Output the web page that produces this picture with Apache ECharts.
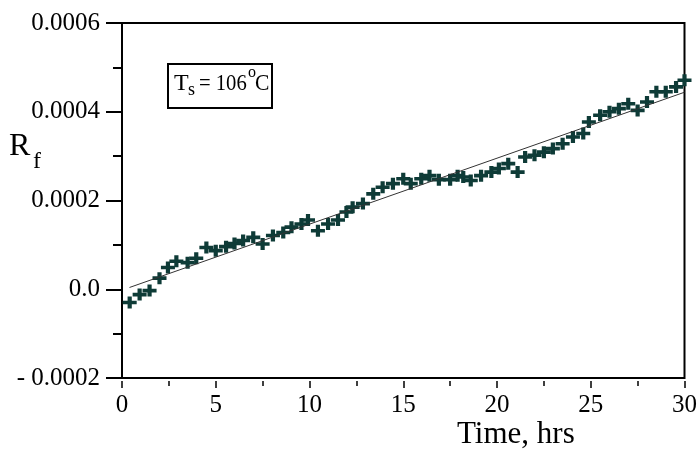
<!DOCTYPE html>
<html><head><meta charset="utf-8">
<script src="https://cdn.jsdelivr.net/npm/echarts@6/dist/echarts.min.js"></script>
<style>html,body{margin:0;padding:0;background:#fff}#c{width:700px;height:458px}</style>
</head><body><div id="c"></div>
<script>
const timeHrs = [0.41,0.94,1.47,2.0,2.45,2.9,3.5,3.96,4.5,5.0,5.55,6.0,6.46,7.0,7.5,8.05,8.6,9.04,9.57,9.92,10.45,10.99,11.52,11.97,12.3,12.85,13.4,13.9,14.45,15.0,15.4,15.96,16.4,16.9,17.5,17.9,18.2,18.6,19.15,19.7,20.1,20.6,21.1,21.5,22.0,22.5,22.98,23.5,24.05,24.6,24.9,25.5,26.0,26.5,27.0,27.5,28.0,28.5,29.0,29.55,30.0];
const rf = [-0.00003,-0.000012,-0.000003,0.000025,0.000049,0.000063,0.00006,0.00007,0.000094,0.000087,0.000096,0.000103,0.00011,0.000117,0.000102,0.000121,0.000128,0.00014,0.000147,0.000156,0.000132,0.000147,0.000156,0.000174,0.000185,0.000193,0.000215,0.00023,0.000238,0.000249,0.000238,0.000249,0.000256,0.000247,0.000247,0.000256,0.000253,0.000245,0.000256,0.000264,0.000272,0.000283,0.000264,0.000298,0.000302,0.000309,0.000317,0.000328,0.000343,0.000351,0.000377,0.000392,0.0004,0.000407,0.000418,0.000403,0.000422,0.000445,0.000445,0.000456,0.000471];
const fitX = [0.4, 30];
const fitY = [0.000004, 0.000444];
const yTickLabels = ['- 0.0002','0.0','0.0002','0.0004','0.0006'];
const xTickLabels = ['0','5','10','15','20','25','30'];

const FONT = 'Liberation Serif';
const chart = echarts.init(document.getElementById('c'));
const plus = 'path://M3.5,0H6.5V3.5H10V6.5H6.5V10H3.5V6.5H0V3.5H3.5Z';
chart.setOption({
  animation:false,
  grid:{left:122,right:15,top:23,bottom:80,show:true,borderColor:'#000',borderWidth:2,backgroundColor:'transparent'},
  xAxis:[{
    type:'value',min:0,max:30,interval:5,
    axisLine:{show:false},axisTick:{show:false},axisLabel:{show:false},splitLine:{show:false}
  },{
    type:'value',min:0,max:30,interval:5,position:'bottom',offset:3,
    axisLine:{show:false},
    axisTick:{show:true,length:7,lineStyle:{color:'#000',width:1.5}},
    minorTick:{show:true,splitNumber:2,length:5,lineStyle:{color:'#000',width:1.5}},
    axisLabel:{color:'#000',fontFamily:FONT,fontSize:25,margin:12,
      formatter:v=>xTickLabels[Math.round(v/5)]},
    splitLine:{show:false}
  }],
  yAxis:{
    type:'value',min:-0.0002,max:0.0006,interval:0.0002,
    axisLine:{show:true,lineStyle:{color:'#000',width:2}},
    axisTick:{show:true,inside:false,length:16,lineStyle:{color:'#000',width:2}},
    minorTick:{show:true,splitNumber:2,length:9,lineStyle:{color:'#000',width:2}},
    axisLabel:{color:'#000',fontFamily:FONT,fontSize:25,margin:22,
      formatter:v=>yTickLabels[Math.round((v+0.0002)/0.0002)]},
    splitLine:{show:false}
  },
  series:[{
    type:'line',xAxisIndex:0,data:fitX.map((x,i)=>[x,fitY[i]]),
    showSymbol:false,lineStyle:{color:'#333',width:1},z:3
  },{
    type:'scatter',xAxisIndex:0,data:timeHrs.map((x,i)=>[x,rf[i]]),
    symbol:plus,symbolSize:[14,12],itemStyle:{color:'#0e3b37',opacity:1},z:2
  }],
  graphic:[
    {type:'text',left:9,top:131,style:{text:'R',font:'32px '+FONT,fill:'#000'}},
    {type:'text',left:33,top:150,style:{text:'f',font:'24px '+FONT,fill:'#000'}},
    {type:'rect',shape:{x:168,y:64,width:104,height:44},style:{fill:'#fff',stroke:'#000',lineWidth:2},z:10},
    {type:'text',x:174,y:72,style:{text:'T',font:'24px '+FONT,fill:'#000'},z:11},
    {type:'text',x:188,y:81,style:{text:'s',font:'18px '+FONT,fill:'#000'},z:11},
    {type:'text',x:199,y:72,scaleX:0.86,style:{text:'= 106',font:'24px '+FONT,fill:'#000'},z:11},
    {type:'text',x:248,y:65,style:{text:'o',font:'16px '+FONT,fill:'#000'},z:11},
    {type:'text',x:255,y:72,scaleX:0.9,style:{text:'C',font:'24px '+FONT,fill:'#000'},z:11},
    {type:'text',left:457,top:419,style:{text:'Time, hrs',font:'31px '+FONT,fill:'#000'}}
  ]
});
</script></body></html>
